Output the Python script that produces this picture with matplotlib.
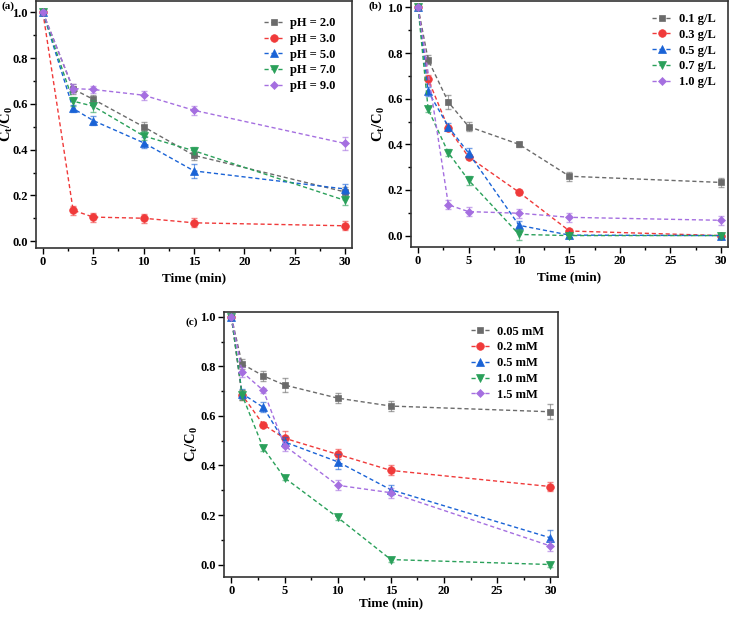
import matplotlib
matplotlib.use("Agg")
import matplotlib.pyplot as plt
from matplotlib.ticker import MultipleLocator, FormatStrFormatter

plt.rcParams['font.family'] = ['Liberation Serif', 'DejaVu Serif']
plt.rcParams['font.weight'] = 'bold'
plt.rcParams['mathtext.fontset'] = 'custom'
plt.rcParams['mathtext.rm'] = 'Liberation Serif:bold'
plt.rcParams['mathtext.it'] = 'Liberation Serif:bold'
plt.rcParams['mathtext.bf'] = 'Liberation Serif:bold'

colors = ['#6b6b6b', '#f03a3a', '#1a63d6', '#2aa05a', '#a56fe0']
markers = ['s', 'o', '^', 'v', 'D']
msizes = [5, 5.5, 5.5, 5.5, 4.5]

# (a) pH
time_a = [0, 3, 5, 10, 15, 30]
labels_a = ['pH = 2.0', 'pH = 3.0', 'pH = 5.0', 'pH = 7.0', 'pH = 9.0']
ph2 = [1.0, 0.665, 0.62, 0.50, 0.375, 0.215]
ph3 = [1.0, 0.135, 0.105, 0.10, 0.08, 0.067]
ph5 = [1.0, 0.58, 0.527, 0.43, 0.307, 0.228]
ph7 = [1.0, 0.612, 0.59, 0.46, 0.395, 0.178]
ph9 = [1.0, 0.667, 0.663, 0.638, 0.572, 0.427]
err_ph2 = [0.01, 0.02, 0.02, 0.02, 0.02, 0.02]
err_ph3 = [0.01, 0.02, 0.02, 0.02, 0.02, 0.02]
err_ph5 = [0.01, 0.015, 0.02, 0.025, 0.03, 0.02]
err_ph7 = [0.01, 0.02, 0.025, 0.02, 0.015, 0.02]
err_ph9 = [0.01, 0.02, 0.015, 0.02, 0.02, 0.03]

# (b) catalyst dosage
time_b = [0, 1, 3, 5, 10, 15, 30]
time_b_10 = [0, 3, 5, 10, 15, 30]
labels_b = ['0.1 g/L', '0.3 g/L', '0.5 g/L', '0.7 g/L', '1.0 g/L']
d01 = [1.0, 0.77, 0.585, 0.478, 0.40, 0.26, 0.233]
d03 = [1.0, 0.685, 0.47, 0.345, 0.19, 0.02, 0.0]
d05 = [1.0, 0.632, 0.477, 0.362, 0.045, 0.002, 0.0]
d07 = [1.0, 0.553, 0.363, 0.243, 0.005, 0.0, 0.0]
d10 = [1.0, 0.135, 0.105, 0.098, 0.08, 0.067]
err_d01 = [0.01, 0.02, 0.03, 0.02, 0.01, 0.02, 0.02]
err_d03 = [0.01, 0.02, 0.01, 0.01, 0.01, 0.01, 0.01]
err_d05 = [0.01, 0.02, 0.015, 0.02, 0.02, 0.01, 0.01]
err_d07 = [0.01, 0.01, 0.015, 0.02, 0.025, 0.01, 0.01]
err_d10 = [0.01, 0.02, 0.02, 0.02, 0.02, 0.02]

# (c) PMS concentration
time_c = [0, 1, 3, 5, 10, 15, 30]
labels_c = ['0.05 mM', '0.2 mM', '0.5 mM', '1.0 mM', '1.5 mM']
c005 = [1.0, 0.81, 0.762, 0.725, 0.672, 0.64, 0.617]
c02 = [1.0, 0.685, 0.565, 0.51, 0.445, 0.38, 0.315]
c05 = [1.0, 0.69, 0.635, 0.495, 0.415, 0.302, 0.108]
c10 = [1.0, 0.685, 0.47, 0.35, 0.19, 0.02, 0.0]
c15 = [1.0, 0.778, 0.703, 0.48, 0.32, 0.29, 0.075]
err_c005 = [0.01, 0.02, 0.02, 0.03, 0.02, 0.02, 0.03]
err_c02 = [0.01, 0.02, 0.01, 0.03, 0.02, 0.02, 0.02]
err_c05 = [0.01, 0.02, 0.02, 0.02, 0.03, 0.02, 0.03]
err_c10 = [0.01, 0.02, 0.01, 0.01, 0.01, 0.01, 0.01]
err_c15 = [0.01, 0.02, 0.01, 0.02, 0.02, 0.02, 0.02]


def draw_panel(ax, xs, ys, errs, labels, ylim, ylab_x, xlab_y, leg_pad):
    for i in range(len(ys)):
        ax.errorbar(xs[i], ys[i], yerr=errs[i], fmt='none', ecolor=colors[i],
                    elinewidth=0.8, capsize=2, alpha=0.6)
        ax.plot(xs[i], ys[i], color=colors[i], ls=(0, (3, 2)), lw=1,
                marker=markers[i], ms=msizes[i], mew=0.5, label=labels[i])
    ax.set_xlim(-0.7, 30.7)
    ax.set_ylim(*ylim)
    ax.xaxis.set_major_locator(MultipleLocator(5))
    ax.xaxis.set_minor_locator(MultipleLocator(2.5))
    ax.yaxis.set_major_locator(MultipleLocator(0.2))
    ax.yaxis.set_minor_locator(MultipleLocator(0.1))
    ax.yaxis.set_major_formatter(FormatStrFormatter('%.1f'))
    ax.tick_params(which='major', direction='out', length=4, width=1,
                   labelsize=9, pad=2)
    ax.tick_params(which='minor', direction='out', length=2.5, width=1)
    for sp in ax.spines.values():
        sp.set_linewidth(1.2)
        sp.set_color('#333333')
    ax.set_xlabel('Time (min)', fontsize=9.5, fontweight='bold', va='center')
    ax.set_ylabel(r'C$_t$/C$_0$', fontsize=10.5, fontweight='bold', va='center')
    ax.xaxis.set_label_coords(0.5, xlab_y)
    ax.yaxis.set_label_coords(ylab_x, 0.5)
    ax.legend(loc='upper right', frameon=False, fontsize=9,
              handlelength=1.5, labelspacing=0.3, handletextpad=0.6,
              borderaxespad=leg_pad)


fig = plt.figure(figsize=(7.32, 6.19), dpi=100)
ax_a = fig.add_axes([0.049, 0.5994, 0.432, 0.399])
ax_b = fig.add_axes([0.5615, 0.601, 0.433, 0.398])
ax_c = fig.add_axes([0.306, 0.068, 0.456, 0.428])

draw_panel(ax_a, [time_a] * 5, [ph2, ph3, ph5, ph7, ph9],
           [err_ph2, err_ph3, err_ph5, err_ph7, err_ph9], labels_a,
           (-0.03, 1.05), -0.092, -0.121, 0.9)
draw_panel(ax_b, [time_b] * 4 + [time_b_10], [d01, d03, d05, d07, d10],
           [err_d01, err_d03, err_d05, err_d07, err_d10], labels_b,
           (-0.05, 1.03), -0.10, -0.125, 0.6)
draw_panel(ax_c, [time_c] * 5, [c005, c02, c05, c10, c15],
           [err_c005, err_c02, err_c05, err_c10, err_c15], labels_c,
           (-0.05, 1.02), -0.095, -0.098, 0.7)

fig.text(1 / 732, 1 - 6 / 619, '(a)', fontsize=8, fontweight='bold', va='center')
fig.text(369 / 732, 1 - 6 / 619, '(b)', fontsize=8, fontweight='bold', va='center')
fig.text(186 / 732, 1 - 322 / 619, '(c)', fontsize=8, fontweight='bold', va='center')

fig.savefig('out.png', dpi=100)
